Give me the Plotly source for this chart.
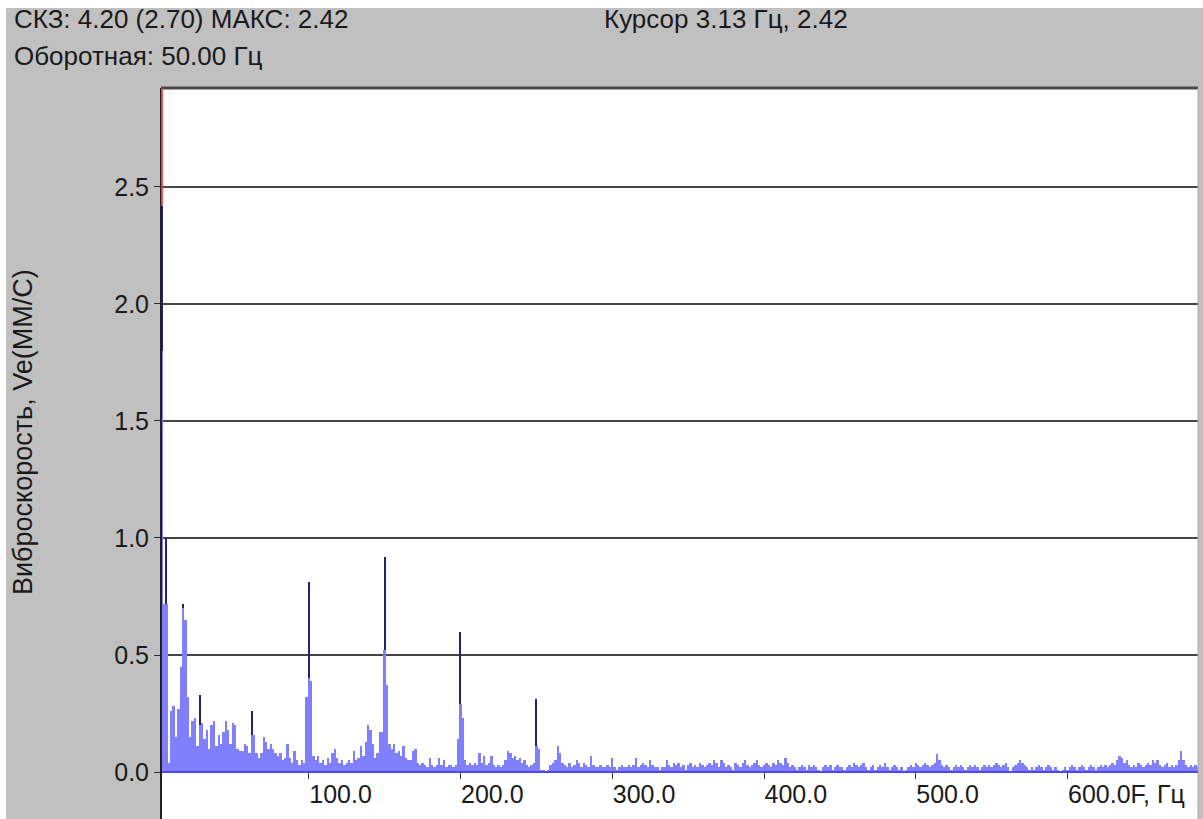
import plotly.graph_objects as go

# ---------------- data ----------------
F_START = 3.125      # first spectral line, Hz (cursor position 3.13 Hz)
F_STEP = 1.5625      # line spacing, Hz

amps = [
    # 3.1 .. 17.2 Hz
    1.80, 0.72, 0.72, 0.04, 0.26, 0.28, 0.15, 0.27, 0.45, 0.70,
    0.65, 0.32, 0.15, 0.22, 0.23, 0.11, 0.20, 0.21, 0.14, 0.18,
    0.10, 0.20, 0.22, 0.11, 0.16, 0.12, 0.17, 0.22, 0.18, 0.12,
    0.21, 0.20, 0.10, 0.09, 0.09, 0.12, 0.11, 0.08, 0.16, 0.16,
    0.08, 0.06, 0.08, 0.15, 0.13, 0.10, 0.12, 0.10, 0.08, 0.07,
    0.08, 0.05, 0.06, 0.12, 0.06, 0.04, 0.09, 0.05, 0.03, 0.05,
    0.04, 0.32, 0.40, 0.39, 0.07, 0.05, 0.07, 0.04, 0.05, 0.03,
    0.06, 0.04, 0.08, 0.10, 0.06, 0.04, 0.05, 0.03, 0.04, 0.05,
    0.04, 0.09, 0.05, 0.06, 0.11, 0.07, 0.13, 0.20, 0.18, 0.12,
    0.06, 0.08, 0.17, 0.17, 0.52, 0.37, 0.12, 0.10, 0.12, 0.08,
    # k = 100
    0.09, 0.07, 0.11, 0.06, 0.05, 0.05, 0.09, 0.10, 0.04, 0.03,
    0.04, 0.03, 0.02, 0.06, 0.03, 0.02, 0.03, 0.06, 0.03, 0.05,
    0.02, 0.03, 0.03, 0.02, 0.03, 0.14, 0.29, 0.23, 0.05, 0.03,
    0.04, 0.03, 0.04, 0.03, 0.08, 0.04, 0.07, 0.03, 0.04, 0.07,
    0.03, 0.02, 0.03, 0.02, 0.03, 0.05, 0.09, 0.08, 0.06, 0.07,
    0.05, 0.06, 0.04, 0.05, 0.03, 0.02, 0.03, 0.04, 0.11, 0.10,
    0.01, 0.01, 0.00, 0.01, 0.03, 0.04, 0.05, 0.11, 0.08, 0.04,
    0.03, 0.02, 0.04, 0.02, 0.03, 0.05, 0.04, 0.02, 0.04, 0.03,
    0.02, 0.07, 0.03, 0.02, 0.02, 0.03, 0.02, 0.02, 0.03, 0.02,
    0.06, 0.02, 0.01, 0.02, 0.03, 0.02, 0.02, 0.03, 0.02, 0.03,
    # k = 200
    0.06, 0.02, 0.03, 0.04, 0.03, 0.02, 0.05, 0.03, 0.02, 0.02,
    0.01, 0.02, 0.02, 0.05, 0.03, 0.02, 0.04, 0.03, 0.04,
    0.02, 0.03, 0.01, 0.03, 0.04, 0.02, 0.03, 0.02, 0.04, 0.03,
    0.02, 0.03, 0.04, 0.03, 0.05, 0.04, 0.02, 0.05, 0.04, 0.02,
    0.03, 0.02, 0.01, 0.04, 0.03, 0.02, 0.04, 0.05, 0.03, 0.02,
    0.03, 0.04, 0.05, 0.03, 0.02, 0.03, 0.04, 0.03, 0.02, 0.04,
    0.03, 0.05, 0.04, 0.03, 0.06, 0.04, 0.02, 0.03, 0.02, 0.01,
    0.02, 0.03, 0.02, 0.01, 0.03, 0.02, 0.03, 0.02, 0.01, 0.00,
    0.02, 0.03, 0.02, 0.03, 0.01, 0.02, 0.03, 0.02, 0.02, 0.01,
    0.02, 0.03, 0.02, 0.04, 0.03, 0.02, 0.03, 0.04, 0.02, 0.01,
    0.02, 0.03, 0.01, 0.02, 0.03, 0.02, 0.04, 0.02, 0.01, 0.02,
    0.03, 0.02, 0.01, 0.02, 0.00, 0.01, 0.02, 0.03, 0.02, 0.04,
    0.03, 0.02, 0.03, 0.04, 0.03, 0.02, 0.03, 0.04, 0.075, 0.05,
    0.03, 0.02, 0.03, 0.02, 0.01, 0.02, 0.03, 0.02, 0.03, 0.02,
    0.01, 0.02, 0.03, 0.02, 0.03, 0.02, 0.01, 0.02, 0.03, 0.02,
    0.03, 0.02, 0.03, 0.04, 0.03, 0.02, 0.03, 0.04, 0.02, 0.00,
    0.02, 0.03, 0.04, 0.05, 0.04, 0.03, 0.02, 0.01, 0.02, 0.01,
    0.02, 0.03, 0.02, 0.01, 0.02, 0.03, 0.02, 0.01, 0.02, 0.01,
    0.00, 0.01, 0.02, 0.01, 0.02, 0.03, 0.02, 0.01, 0.02, 0.03,
    0.02, 0.01, 0.02, 0.03, 0.02, 0.01, 0.02, 0.03, 0.02, 0.03,
    0.02, 0.03, 0.04, 0.03, 0.05, 0.07, 0.06, 0.04, 0.05, 0.03,
    0.02, 0.03, 0.02, 0.04, 0.03, 0.02, 0.03, 0.04, 0.03, 0.05,
    0.04, 0.05, 0.03, 0.02, 0.03, 0.04, 0.02, 0.03, 0.02, 0.03,
    0.05, 0.09, 0.05, 0.03, 0.02, 0.03, 0.02, 0.03, 0.02,
]

# narrow dark peak tips (frequency, peak amplitude)
spike_freq = [3.125, 6.25, 17.1875, 28.125, 62.5, 100.0, 150.0, 200.0, 250.0]
spike_top = [2.42, 1.00, 0.72, 0.33, 0.26, 0.81, 0.92, 0.60, 0.31]

x_tickvals = [100, 200, 300, 400, 500, 600]
x_ticktext = ["100.0", "200.0", "300.0", "400.0", "500.0", "600.0F, Гц"]
y_tickvals = [0.0, 0.5, 1.0, 1.5, 2.0, 2.5]
y_ticktext = ["0.0", "0.5", "1.0", "1.5", "2.0", "2.5"]

cursor_freq = 3.125
cursor_val = 2.42

header_left1 = "СКЗ: 4.20 (2.70) МАКС: 2.42"
header_left2 = "Оборотная: 50.00 Гц"
header_right = "Курсор 3.13 Гц, 2.42"
y_title = "Виброскорость, Ve(ММ/С)"

# ---------------- figure ----------------
freqs = [F_START + F_STEP * i for i in range(len(amps))]
spike_base = [amps[int(round((f - F_START) / F_STEP))] for f in spike_freq]
spike_len = [t - b for t, b in zip(spike_top, spike_base)]

W, H = 1203, 819
L, R, T, B = 161, 1198, 88, 772  # plot area in pixels
pw, ph = R - L, B - T


def px(xp):
    return (xp - L) / pw


def py(yp):
    return (B - yp) / ph


FONT = "Liberation Sans, Arial, sans-serif"
TXT = "#1a1a1a"

fig = go.Figure()
fig.add_trace(go.Bar(
    x=freqs, y=amps, width=F_STEP,
    marker=dict(color="#8080ff", line=dict(width=0)),
    hoverinfo="x+y", showlegend=False,
))
fig.add_trace(go.Bar(
    x=spike_freq, y=spike_len, base=spike_base, width=0.8,
    marker=dict(color="#23236e", line=dict(width=0)),
    hoverinfo="skip", showlegend=False,
))

shapes = [
    # gray window panel
    dict(type="rect", xref="paper", yref="paper", x0=px(6), x1=px(W + 5),
         y0=py(H + 5), y1=py(8), fillcolor="#c0c0c0", line=dict(width=0), layer="below"),
    # white plotting canvas (extends down under x labels)
    dict(type="rect", xref="paper", yref="paper", x0=0, x1=1,
         y0=py(H + 5), y1=1, fillcolor="#ffffff", line=dict(width=0), layer="below"),
    # top border
    dict(type="line", xref="paper", yref="paper", x0=0, x1=1, y0=1, y1=1,
         line=dict(color="#484848", width=3), layer="above"),
    # right border
    dict(type="line", xref="paper", yref="paper", x0=1, x1=1, y0=py(H + 5), y1=1,
         line=dict(color="#a8a8a8", width=1), layer="above"),
    # baseline
    dict(type="line", xref="paper", yref="paper", x0=0, x1=1, y0=0, y1=0,
         line=dict(color="#4a4af0", width=2), layer="above"),
    # left axis line
    dict(type="line", xref="paper", yref="paper", x0=0, x1=0, y0=py(H + 5), y1=1,
         line=dict(color="#202028", width=2), layer="above"),
    # cursor
    dict(type="line", xref="x", yref="y", x0=cursor_freq, x1=cursor_freq,
         y0=cursor_val, y1=2.923, line=dict(color="#ff3030", width=2), layer="above"),
]

annotations = [
    dict(text=header_left1, xref="paper", yref="paper", x=px(12), y=py(19),
         xanchor="left", yanchor="middle", showarrow=False,
         font=dict(family=FONT, size=26, color=TXT)),
    dict(text=header_left2, xref="paper", yref="paper", x=px(12), y=py(56),
         xanchor="left", yanchor="middle", showarrow=False,
         font=dict(family=FONT, size=26, color=TXT)),
    dict(text=header_right, xref="paper", yref="paper", x=px(602), y=py(19),
         xanchor="left", yanchor="middle", showarrow=False,
         font=dict(family=FONT, size=26, color=TXT)),
    dict(text=y_title, xref="paper", yref="paper", x=px(23), y=py(432),
         xanchor="center", yanchor="middle", textangle=-90, showarrow=False,
         font=dict(family=FONT, size=27, color=TXT)),
]

fig.update_layout(
    width=W, height=H,
    margin=dict(l=L, r=W - R, t=T, b=H - B, pad=0),
    paper_bgcolor="#ffffff",
    plot_bgcolor="#ffffff",
    bargap=0, barmode="overlay",
    shapes=shapes, annotations=annotations,
    font=dict(family=FONT, size=25, color=TXT),
    showlegend=False,
)
fig.update_xaxes(
    range=[2.6, 686.0], tickmode="array", tickvals=x_tickvals, ticktext=x_ticktext,
    ticks="outside", ticklen=6, tickwidth=1, tickcolor="#303030",
    ticklabelposition="outside right",
    showgrid=False, zeroline=False, showline=False,
    tickfont=dict(family=FONT, size=25, color=TXT),
)
fig.update_yaxes(
    range=[0, 2.923], tickmode="array", tickvals=y_tickvals, ticktext=y_ticktext,
    ticks="outside", ticklen=6, tickwidth=1, tickcolor="#303030",
    showgrid=True, gridcolor="#454545", gridwidth=2,
    zeroline=False, showline=False,
    tickfont=dict(family=FONT, size=25, color=TXT),
)

fig.write_html("out.html")
